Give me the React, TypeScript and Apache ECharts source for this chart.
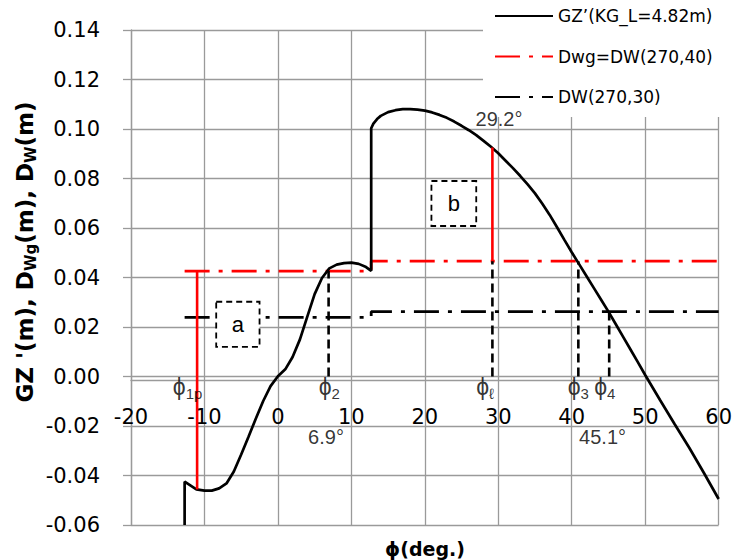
import React, { useEffect, useRef } from 'react';
import * as echarts from 'echarts';

// Axis ranges and ticks
const xMin = -20;
const xMax = 60;
const xStep = 10;
const yMin = -0.06;
const yMax = 0.14;
const yStep = 0.02;

// GZ' curve (KG_L = 4.82 m)
const gzPhi = [
  -12.7, -12.7, -11.1, -10, -9, -8, -7, -6, -5, -4, -3, -2, -1, 0, 1, 2, 3, 4, 5, 6, 7, 8, 9, 10, 11, 12, 12.7,
  12.7, 13, 13.5, 14, 15, 16, 17, 18, 19, 20, 21, 22, 23, 24, 25, 26, 27, 28, 29, 30, 31, 32, 33, 34, 35, 36,
  37, 38, 39, 40, 41, 42, 43, 44, 45, 46, 47, 48, 49, 50, 52, 54, 56, 58, 60,
];
const gzValue = [
  -0.06, -0.0425, -0.0456, -0.0461, -0.0461, -0.0452, -0.0432, -0.0384, -0.0315, -0.0243, -0.017, -0.0099,
  -0.0039, 0.0001, 0.0029, 0.0079, 0.015, 0.0242, 0.0333, 0.0398, 0.0437, 0.0452, 0.0458, 0.046, 0.0455,
  0.0442, 0.0427,
  0.1003, 0.1022, 0.104, 0.1053, 0.1068, 0.1076, 0.108, 0.108, 0.1078, 0.1074, 0.1067, 0.1057, 0.1045, 0.103,
  0.1013, 0.0995, 0.0975, 0.0952, 0.0928, 0.0902, 0.0872, 0.0842, 0.081, 0.0776, 0.074, 0.0698, 0.0653, 0.0603,
  0.0552, 0.0502, 0.0454, 0.0406, 0.0358, 0.031, 0.0262, 0.0211, 0.016, 0.0109, 0.0058, 0.0006, -0.0094,
  -0.0192, -0.0288, -0.039, -0.0495,
];

// Dwg = DW(270,40)
const dwgPhi = [-12.7, 12.7, 12.7, 60];
const dwgValue = [0.0426, 0.0426, 0.0466, 0.0466];

// DW(270,30)
const dw30Phi = [-12.7, 12.7, 12.7, 60];
const dw30Value = [0.0239, 0.0239, 0.0262, 0.0262];

// Red solid verticals (phi, from, to)
const redVPhi = [-11.0, 29.2];
const redVLow = [-0.0456, 0.0466];
const redVHigh = [0.0426, 0.0925];

// Black dashed verticals (phi, from, to)
const dashVPhi = [6.9, 29.2, 40.9, 45.1];
const dashVLow = [0, 0, 0, 0];
const dashVHigh = [0.0426, 0.0466, 0.0466, 0.0262];

// Dashed boxes
const boxX1 = [-8.4, 20.9];
const boxY1 = [0.0302, 0.079];
const boxX2 = [-2.5, 27.0];
const boxY2 = [0.012, 0.0608];
const boxLabels = ['a', 'b'];

// Annotations
const annoPhi = [-12.3, 7.0, 6.55, 28.2, 40.9, 44.5, 44.2, 30.1];
const annoY = [-0.0042, -0.0042, -0.0243, -0.0042, -0.0042, -0.0042, -0.0243, 0.1042];
const annoText = [
  '{g|ϕ}{s|1p}',
  '{g|ϕ}{s|2}',
  '{n|6.9°}',
  '{g|ϕ}{s|ℓ}',
  '{g|ϕ}{s|3}',
  '{g|ϕ}{s|4}',
  '{n|45.1°}',
  '{n|29.2°}',
];

const legendNames = ['GZ’(KG_L=4.82m)', 'Dwg=DW(270,40)', 'DW(270,30)'];

const GRID = '#9a9a9a';
const FONT = 'DejaVu Sans';
const AFONT = '"Liberation Sans", "DejaVu Sans"';

export default function App() {
  const ref = useRef<HTMLDivElement>(null);

  useEffect(() => {
    if (!ref.current) return;
    const chart = echarts.init(ref.current, undefined, { renderer: 'svg' });

    const pairs = (xs: number[], ys: number[]) => xs.map((x, i) => [x, ys[i]]);

    const redV = redVPhi.map((p, i) => ({
      type: 'line',
      name: 'redV' + i,
      data: [
        [p, redVLow[i]],
        [p, redVHigh[i]],
      ],
      symbol: 'none',
      lineStyle: { color: '#ff0000', width: 2.6, type: 'solid' },
      z: 4,
      silent: true,
    }));
    const dashV = dashVPhi.map((p, i) => ({
      type: 'line',
      name: 'dashV' + i,
      data: [
        [p, dashVLow[i]],
        [p, dashVHigh[i]],
      ],
      symbol: 'none',
      lineStyle: { color: '#000', width: 2.6, type: [9, 5] },
      z: 4,
      silent: true,
    }));

    const option: any = {
      animation: false,
      grid: { left: 131, right: 14.5, top: 30, bottom: 35, containLabel: false },
      legend: {
        data: legendNames,
        orient: 'vertical',
        left: 483,
        top: 0,
        padding: [7.5, 20, 11.5, 11],
        itemWidth: 58,
        itemHeight: 17,
        itemGap: 23.5,
        backgroundColor: '#ffffff',
        itemStyle: { color: 'transparent', borderWidth: 0, opacity: 0 },
        textStyle: { fontSize: 17, fontFamily: FONT, color: '#000' },
        z: 1,
      },
      xAxis: {
        type: 'value',
        min: xMin,
        max: xMax,
        interval: xStep,
        offset: 0,
        axisLine: { show: true, onZero: false, lineStyle: { color: GRID, width: 1.3 } },
        axisTick: { show: false },
        axisLabel: { fontSize: 21, fontFamily: FONT, color: '#000', margin: 26 },
        splitLine: { show: true, lineStyle: { color: GRID, width: 1.3 } },
      },
      yAxis: {
        type: 'value',
        min: yMin,
        max: yMax,
        interval: yStep,
        axisLine: { show: true, onZero: false, lineStyle: { color: GRID, width: 1.3 } },
        axisTick: { show: true, length: 8, lineStyle: { color: GRID, width: 1.3 } },
        axisLabel: {
          fontSize: 21,
          fontFamily: FONT,
          color: '#000',
          margin: 31,
          formatter: (v: number) => (Math.abs(v) < 1e-9 ? '0.00' : v.toFixed(2)),
        },
        splitLine: { show: true, lineStyle: { color: GRID, width: 1.3 } },
      },
      graphic: [
        {
          type: 'text',
          x: 25,
          y: 252,
          rotation: Math.PI / 2,
          style: {
            text: "{b|GZ '(m), D}{s|Wg}{b|(m), D}{s|W}{b|(m)}",
            align: 'center',
            verticalAlign: 'middle',
            rich: {
              b: { fontSize: 23, fontWeight: 'bold', fontFamily: FONT, fill: '#000' },
              s: { fontSize: 15, fontWeight: 'bold', fontFamily: FONT, fill: '#000', padding: [12, 0, 0, 0] },
            },
          },
        },
        {
          type: 'text',
          x: 425,
          y: 549,
          style: {
            text: 'ϕ(deg.)',
            align: 'center',
            verticalAlign: 'middle',
            fontSize: 19,
            fontWeight: 'bold',
            fontFamily: FONT,
            fill: '#000',
          },
        },
      ],
      series: [
        {
          type: 'line',
          name: legendNames[2],
          data: pairs(dw30Phi, dw30Value),
          symbol: 'none',
          lineStyle: { color: '#000', width: 2.8, type: [25, 9, 4, 9] },
          itemStyle: { color: '#000' },
          z: 2,
          silent: true,
        },
        {
          type: 'line',
          name: legendNames[1],
          data: pairs(dwgPhi, dwgValue),
          symbol: 'none',
          lineStyle: { color: '#ff0000', width: 2.8, type: [25, 9, 4, 9] },
          itemStyle: { color: '#ff0000' },
          z: 2,
          silent: true,
        },
        {
          type: 'line',
          name: legendNames[0],
          data: pairs(gzPhi, gzValue),
          symbol: 'none',
          lineStyle: { color: '#000', width: 2.7 },
          itemStyle: { color: '#000' },
          z: 3,
          silent: true,
        },
        ...redV,
        ...dashV,
        {
          type: 'custom',
          name: 'boxes',
          data: boxX1.map((x, i) => [x, boxY1[i], boxX2[i], boxY2[i]]),
          encode: { x: [0, 2], y: [1, 3] },
          z: 5,
          silent: true,
          renderItem: (params: any, api: any) => {
            const i = params.dataIndex;
            const p1 = api.coord([api.value(0), api.value(1)]);
            const p2 = api.coord([api.value(2), api.value(3)]);
            const x = Math.min(p1[0], p2[0]);
            const y = Math.min(p1[1], p2[1]);
            const w = Math.abs(p2[0] - p1[0]);
            const h = Math.abs(p2[1] - p1[1]);
            return {
              type: 'group',
              children: [
                {
                  type: 'rect',
                  shape: { x, y, width: w, height: h },
                  style: { fill: '#fff', stroke: '#000', lineWidth: 1.8, lineDash: [6, 4] },
                },
                {
                  type: 'text',
                  style: {
                    text: boxLabels[i],
                    x: x + w / 2,
                    y: y + h / 2,
                    align: 'center',
                    verticalAlign: 'middle',
                    fill: '#000',
                    fontSize: 22,
                    fontFamily: AFONT,
                  },
                },
              ],
            };
          },
        },
        {
          type: 'scatter',
          name: 'anno',
          data: annoPhi.map((p, i) => [p, annoY[i]]),
          symbolSize: 1,
          itemStyle: { color: 'transparent' },
          z: 6,
          silent: true,
          label: {
            show: true,
            position: 'inside',
            color: '#000',
            formatter: (p: any) => annoText[p.dataIndex],
            rich: {
              g: { fontSize: 23, fontFamily: AFONT, color: '#000' },
              s: { fontSize: 15, fontFamily: AFONT, color: '#000', padding: [13, 0, 0, 0] },
              n: { fontSize: 20, fontFamily: AFONT, color: '#000' },
            },
          },
        },
      ],
    };

    chart.setOption(option);
    // Move the x axis (line + labels) so it crosses the y axis at 0, as in the reference
    const yZero = chart.convertToPixel({ yAxisIndex: 0 }, 0) as number;
    const yBottom = chart.convertToPixel({ yAxisIndex: 0 }, yMin) as number;
    chart.setOption({ xAxis: { offset: yZero - yBottom } });
    return () => chart.dispose();
  }, []);

  return <div ref={ref} style={{ position: 'absolute', left: 0, top: 0, width: 735, height: 560 }} />;
}
